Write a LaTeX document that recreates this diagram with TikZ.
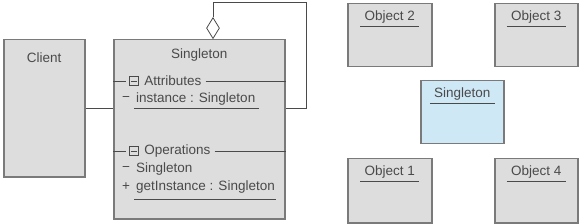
\documentclass[tikz,border=0pt]{standalone}
\usepackage{fontspec}
\setmainfont{Liberation Sans}
\usetikzlibrary{positioning,shapes.geometric}
\definecolor{boxfill}{HTML}{DDDDDD}
\definecolor{boxline}{HTML}{7A7A7A}
\definecolor{ink}{HTML}{4A4A4A}
\definecolor{objblue}{HTML}{CFE8F6}
\tikzset{
    box/.style={draw=boxline, fill=boxfill, line width=1.5pt, anchor=north west, inner sep=0pt},
    title/.style={text=ink, font=\fontsize{13.5}{15}\selectfont, inner sep=1pt},
    objname/.style={text=ink, font=\fontsize{13.5}{15}\selectfont, inner xsep=4pt, inner ysep=2pt},
    member/.style={text=ink, font=\fontsize{13.5}{15}\selectfont, anchor=west, inner sep=1pt},
    minusbox/.style={draw=ink, line width=0.8pt, minimum size=9.5pt, inner sep=0pt},
    aggr/.style={diamond, draw=ink, fill=white, line width=0.8pt, aspect=0.62, minimum width=13pt, minimum height=21pt, inner sep=0pt, anchor=south},
    link/.style={draw=ink, line width=0.8pt},
    uline/.style={draw=ink, line width=0.9pt}
}
\begin{document}
\begin{tikzpicture}[x=1pt, y=-1pt]
    \useasboundingbox (0,0) rectangle (580,224);

    % class diagram
    \node[box, minimum width=81pt, minimum height=137pt] (client) at (3,39) {};
    \node[title, below=13pt of client.north] {Client};
    \node[box, minimum width=171pt, minimum height=179pt] (class) at (113,39) {};
    \node[title, below=9pt of class.north] (classname) {Singleton};
    \node[aggr] (agg) at (213,39) {};
    \coordinate (loop) at (306,2);

    % attributes
    \node[minusbox] (attrbox) at (134,81) {};
    \draw[ink, line width=0.8pt] ([xshift=2pt]attrbox.west) -- ([xshift=-2pt]attrbox.east);
    \node[member, right=5pt of attrbox, inner xsep=0pt] (attrhead) {Attributes};
    \draw[link] (class.west |- attrbox) -- ([xshift=-3pt]attrbox.west);
    \draw[link] ([xshift=4pt]attrhead.east) -- (class.east |- attrbox);
    \node[member] (s1) at (121,99) {−};
    \node[member, inner xsep=2pt] (inst) at (134,99) {instance : Singleton};
    \draw[uline] (134,108) -- (259,108);

    % operations
    \node[minusbox] (opbox) at (134,151) {};
    \draw[ink, line width=0.8pt] ([xshift=2pt]opbox.west) -- ([xshift=-2pt]opbox.east);
    \node[member, right=5pt of opbox, inner xsep=0pt] (ophead) {Operations};
    \draw[link] (class.west |- opbox) -- ([xshift=-3pt]opbox.west);
    \draw[link] ([xshift=4pt]ophead.east) -- (class.east |- opbox);
    \node[member] (s2) at (121,169) {−};
    \node[member, inner xsep=2pt] (ctor) at (134,169) {Singleton};
    \node[member] (s3) at (121,187) {+};
    \node[member, inner xsep=2pt] (getinst) at (134,187) {getInstance : Singleton};
    \draw[uline] (134,199) -- (276,199);

    % edges
    \draw[link] (client.east) -- (client.east -| class.west);
    \draw[link] (agg.north) |- (loop) |- (class.east |- client.east);

    % objects
    \node[box, minimum width=84pt, minimum height=63pt] (obj2) at (347,3) {};
    \node[box, minimum width=83pt, minimum height=63pt] (obj3) at (494,3) {};
    \node[box, fill=objblue, minimum width=83pt, minimum height=63pt] (single) at (420,80) {};
    \node[box, minimum width=84pt, minimum height=64pt] (obj1) at (347,158) {};
    \node[box, minimum width=83pt, minimum height=64pt] (obj4) at (494,158) {};
    \foreach \o/\t in {obj2/Object 2, obj3/Object 3, single/Singleton, obj1/Object 1, obj4/Object 4} {
        \node[objname, below=6pt of \o.north] (\o name) {\t};
        \draw[uline] (\o name.south west) -- (\o name.south east);
    }
\end{tikzpicture}
\end{document}
